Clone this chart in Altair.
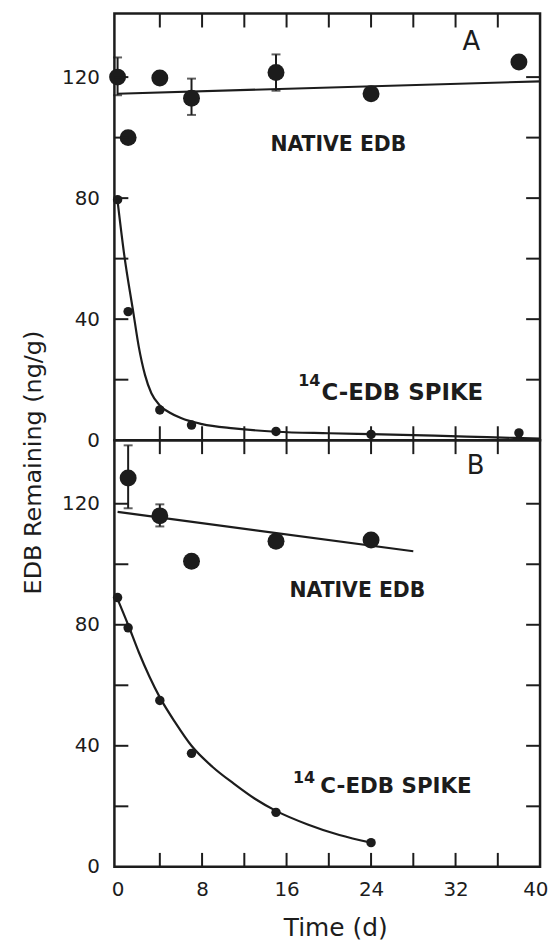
import altair as alt
import pandas as pd

# ---------------- data ----------------
# Panel A
a_nat_x = [0, 1, 4, 7, 15, 24, 38]
a_nat_y = [120, 100, 119.7, 113, 121.5, 114.5, 125]
a_err_x = [0, 7, 15]
a_err_lo = [114, 107.5, 115.5]
a_err_hi = [126.5, 119.5, 127.5]
a_natfit_x = [0, 40]
a_natfit_y = [114.5, 118.6]
a_sp_x = [0, 1, 4, 7, 15, 24, 38]
a_sp_y = [79.5, 42.5, 10, 5, 2.9, 1.9, 2.4]
a_spfit_x = [0, 0.6, 1.5, 2, 2.6, 3.2, 4, 5, 6, 8, 11, 15, 20, 24, 30, 35, 40]
a_spfit_y = [79, 62, 42, 31, 21.5, 15.5, 11.5, 9, 7.3, 5.3, 3.9, 2.8, 2.3, 2, 1.5, 1.0, 0.5]

# Panel B
b_nat_x = [1, 4, 7, 15, 24]
b_nat_y = [128.5, 116, 101, 107.6, 108]
b_err_x = [1, 4]
b_err_lo = [118.5, 112.5]
b_err_hi = [139.3, 119.8]
b_natfit_x = [0, 28]
b_natfit_y = [117.3, 104.3]
b_sp_x = [0, 1, 4, 7, 15, 24]
b_sp_y = [89, 79, 55, 37.5, 18, 8]
b_spfit_x = [0, 1, 2, 3, 4, 5.5, 7, 9, 11, 13, 15, 18, 21, 24]
b_spfit_y = [88.5, 80, 71, 63, 56, 47.5, 40, 33, 27.5, 22.5, 18.5, 14, 10.5, 8]

# annotations (data coordinates)
a_letter = ("A", 33.5, 131.5)
b_letter = ("B", 33.9, 132.5)
a_native_lbl = ("NATIVE EDB", 20.9, 97.4)
b_native_lbl = ("NATIVE EDB", 22.7, 91.1)
a_spike_lbl = ("C-EDB SPIKE", 19.3, 15.7)
a_spike_sup = ("14", 19.2, 19.7)
b_spike_lbl = ("C-EDB SPIKE", 19.2, 26.3)
b_spike_sup = ("14", 18.7, 29.5)

x_tick_vals = [4, 8, 12, 16, 20, 24, 28, 32, 36]
y_tick_vals = [20, 40, 60, 80, 100, 120]
x_label_vals = [0, 8, 16, 24, 32, 40]
y_label_vals = [0, 40, 80, 120]

# ---------------- styling ----------------
W, H = 428, 429
INK = "#1c1c1c"
FONT = "DejaVu Sans"
TL = 14  # inward tick length
xs = alt.Scale(domain=[-0.3, 40], nice=False, zero=False)
ys = alt.Scale(domain=[0, 141], nice=False, zero=False)


def panel(nat_x, nat_y, err_x, err_lo, err_hi, nfx, nfy, sp_x, sp_y, sfx, sfy,
          letter, native_lbl, spike_lbl, spike_sup, spike_size, ax_x, ax_y):
    X = lambda f: alt.X(f, type="quantitative", scale=xs, axis=ax_x)
    Y = lambda f: alt.Y(f, type="quantitative", scale=ys, axis=ax_y)

    nat = pd.DataFrame({"x": nat_x, "y": nat_y})
    err = pd.DataFrame({"x": err_x, "lo": err_lo, "hi": err_hi})
    caps = pd.DataFrame({"x": err_x + err_x, "y": err_lo + err_hi})
    nfit = pd.DataFrame({"x": nfx, "y": nfy})
    sp = pd.DataFrame({"x": sp_x, "y": sp_y})
    sfit = pd.DataFrame({"x": sfx, "y": sfy})
    xt = pd.DataFrame({"x": x_tick_vals})
    yt = pd.DataFrame({"y": y_tick_vals})

    layers = [
        alt.Chart(nfit).mark_line(color=INK, strokeWidth=2.2).encode(x=X("x"), y=Y("y")),
        alt.Chart(sfit).mark_line(color=INK, strokeWidth=2.2, interpolate="monotone").encode(x=X("x"), y=Y("y")),
        alt.Chart(err).mark_rule(color=INK, strokeWidth=2).encode(x=X("x"), y=Y("lo"), y2="hi"),
        alt.Chart(caps).mark_tick(color=INK, orient="horizontal", size=9, thickness=2).encode(x=X("x"), y=Y("y")),
        alt.Chart(nat).mark_circle(color=INK, opacity=1, size=290).encode(x=X("x"), y=Y("y")),
        alt.Chart(sp).mark_circle(color=INK, opacity=1, size=90).encode(x=X("x"), y=Y("y")),
        # inward ticks on all four sides
        alt.Chart(xt).mark_rule(color=INK, strokeWidth=2).encode(x=X("x"), y=alt.value(0), y2=alt.value(TL)),
        alt.Chart(xt).mark_rule(color=INK, strokeWidth=2).encode(x=X("x"), y=alt.value(H - TL), y2=alt.value(H)),
        alt.Chart(yt).mark_rule(color=INK, strokeWidth=2).encode(y=Y("y"), x=alt.value(0), x2=alt.value(TL)),
        alt.Chart(yt).mark_rule(color=INK, strokeWidth=2).encode(y=Y("y"), x=alt.value(W - TL), x2=alt.value(W)),
    ]

    def txt(spec, size, weight, align):
        df = pd.DataFrame({"t": [spec[0]], "x": [spec[1]], "y": [spec[2]]})
        return alt.Chart(df).mark_text(font=FONT, fontSize=size, fontWeight=weight, align=align,
                                       baseline="middle", color=INK).encode(
            x=X("x"), y=Y("y"), text="t:N")

    layers += [
        txt(letter, 26, "normal", "center"),
        txt(native_lbl, 20.5, "bold", "center"),
        txt(spike_lbl, spike_size, "bold", "left"),
        txt(spike_sup, 16, "bold", "right"),
    ]
    return alt.layer(*layers).properties(width=W, height=H)


label_common = dict(labelFont=FONT, labelFontSize=20, labelColor=INK, ticks=False, domain=False, grid=False)

ax_y_A = alt.Axis(values=y_label_vals, title="EDB Remaining (ng/g)", titleX=-81, titleY=451,
                  titleAngle=270, titleAlign="center", titleBaseline="middle", titleFont=FONT,
                  titleFontSize=24, titleFontWeight="normal", titleColor=INK, labelPadding=15,
                  **label_common)
ax_y_B = alt.Axis(values=y_label_vals, title=None, labelPadding=15, **label_common)
ax_x_A = alt.Axis(labels=False, title=None, ticks=False, domain=False, grid=False)
ax_x_B = alt.Axis(values=x_label_vals, title="Time (d)", titleX=222, titleY=69,
                  titleAlign="center", titleBaseline="alphabetic", titleFont=FONT, titleFontSize=25,
                  titleFontWeight="normal", titleColor=INK, labelPadding=13, labelFlush=1,
                  labelFlushOffset=8, **label_common)

pA = panel(a_nat_x, a_nat_y, a_err_x, a_err_lo, a_err_hi, a_natfit_x, a_natfit_y,
           a_sp_x, a_sp_y, a_spfit_x, a_spfit_y, a_letter, a_native_lbl, a_spike_lbl,
           a_spike_sup, 23, ax_x_A, ax_y_A)
pB = panel(b_nat_x, b_nat_y, b_err_x, b_err_lo, b_err_hi, b_natfit_x, b_natfit_y,
           b_sp_x, b_sp_y, b_spfit_x, b_spfit_y, b_letter, b_native_lbl, b_spike_lbl,
           b_spike_sup, 21.5, ax_x_B, ax_y_B)

chart = alt.vconcat(pA, pB, spacing=0, bounds="flush").properties(
    padding={"left": 12, "top": 0, "right": 0, "bottom": -1},
    background="white",
).configure_view(stroke=INK, strokeWidth=2.5)

chart.save("out.html", embed_options={"renderer": "svg", "actions": False})
